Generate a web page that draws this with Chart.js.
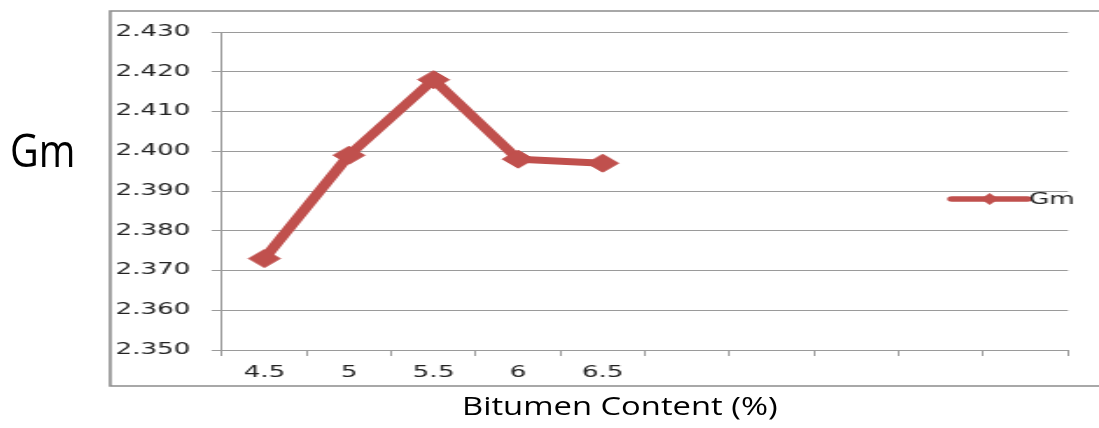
<!DOCTYPE html>
<html>
<head>
<meta charset="utf-8">
<title>Gm vs Bitumen Content</title>
<script src="https://cdn.jsdelivr.net/npm/chart.js@4.4.1/dist/chart.umd.min.js"></script>
<style>
    body { margin: 0; background: #fff; }
    #page { position: relative; width: 1099px; height: 428px; overflow: hidden; }
    /* chart is drawn narrow and then widened to the slide width */
    #chartWrap {
        position: absolute; left: 0; top: 0;
        width: 628px; height: 428px;
        transform: scaleX(1.75); transform-origin: 0 0;
    }
    .axisTitle {
        position: absolute;
        font-family: "Open Sans", "Noto Sans", sans-serif;
        color: #000;
        white-space: nowrap;
        line-height: 1;
        transform-origin: 0 0;
    }
    #yTitle { left: 10px; top: 127px; font-size: 45px; transform: scaleX(0.88); }
    #xTitle { left: 462px; top: 393px; font-size: 25px; transform: scaleX(1.31); }
</style>
</head>
<body>
<div id="page">
    <div id="chartWrap"><canvas id="myChart"></canvas></div>
    <div id="yTitle" class="axisTitle">Gm</div>
    <div id="xTitle" class="axisTitle">Bitumen Content (%)</div>
</div>

<script>
// Bitumen content categories (the last five are left empty)
const bitumenContent = ['4.5', '5', '5.5', '6', '6.5', '', '', '', '', ''];
// Gm values for each bitumen content
const gmValues = [2.373, 2.399, 2.418, 2.398, 2.397, null, null, null, null, null];
// y axis range and step
const yMin = 2.350;
const yMax = 2.430;
const yStep = 0.010;

const lineColor = '#C0504D';
const gridColor = '#9a9a9a';
const tickFont = { family: 'DejaVu Sans', size: 15 };

// Gray frame around the whole chart (top, left, bottom)
const framePlugin = {
    id: 'frame',
    beforeDraw(chart) {
        const ctx = chart.ctx;
        ctx.save();
        ctx.strokeStyle = '#8c8c8c';
        ctx.lineWidth = 1.6;
        ctx.beginPath();
        ctx.moveTo(chart.width, 11);
        ctx.lineTo(63, 11);
        ctx.lineTo(63, 386);
        ctx.lineTo(chart.width, 386);
        ctx.stroke();
        ctx.restore();
    }
};

// Legend drawn on top of the plot, right side
const legendPlugin = {
    id: 'sideLegend',
    afterDraw(chart) {
        const ctx = chart.ctx;
        const ds = chart.data.datasets[0];
        const x0 = 544, x1 = 587, y = 199;
        ctx.save();
        ctx.strokeStyle = ds.borderColor;
        ctx.lineWidth = 5.5;
        ctx.lineCap = 'round';
        ctx.beginPath();
        ctx.moveTo(x0, y);
        ctx.lineTo(x1, y);
        ctx.stroke();
        // small diamond marker in the middle
        const cx = (x0 + x1) / 2;
        ctx.fillStyle = ds.backgroundColor;
        ctx.beginPath();
        ctx.moveTo(cx - 5, y);
        ctx.lineTo(cx, y - 6);
        ctx.lineTo(cx + 5, y);
        ctx.lineTo(cx, y + 6);
        ctx.closePath();
        ctx.fill();
        ctx.fillStyle = '#222';
        ctx.font = tickFont.size + 'px ' + tickFont.family;
        ctx.textBaseline = 'middle';
        ctx.fillText(ds.label, 588, y + 1);
        ctx.restore();
    }
};

function createLineChart(labels, data) {
    const ctx = document.getElementById('myChart').getContext('2d');
    new Chart(ctx, {
        type: 'line',
        data: {
            labels: labels,
            datasets: [{
                label: 'Gm',
                data: data,
                borderColor: lineColor,
                backgroundColor: lineColor,
                borderWidth: 7,
                pointStyle: 'rectRot',
                pointRadius: 9,
                pointBorderWidth: 1,
                pointBorderColor: lineColor,
                pointBackgroundColor: lineColor,
                tension: 0,
                fill: false
            }]
        },
        options: {
            responsive: true,
            maintainAspectRatio: false,
            animation: false,
            layout: {
                padding: { left: 0, top: 32, right: 17.7, bottom: 0 }
            },
            plugins: {
                legend: { display: false },
                tooltip: { enabled: false }
            },
            scales: {
                x: {
                    type: 'category',
                    offset: true,
                    afterFit(scale) { scale.height = 78; },
                    grid: {
                        offset: true,
                        drawOnChartArea: false,
                        drawTicks: true,
                        tickLength: 6,
                        color: gridColor
                    },
                    border: { display: true, color: gridColor, width: 1 },
                    ticks: {
                        font: tickFont,
                        color: '#222',
                        padding: 8,
                        maxRotation: 0,
                        autoSkip: false
                    }
                },
                y: {
                    min: yMin,
                    max: yMax,
                    afterFit(scale) { scale.width = 126.9; },
                    grid: {
                        color: gridColor,
                        lineWidth: 1,
                        tickLength: 6
                    },
                    border: { display: true, color: gridColor, width: 1 },
                    ticks: {
                        stepSize: yStep,
                        font: tickFont,
                        color: '#222',
                        padding: 12,
                        callback: function(value) {
                            return value.toFixed(3);
                        }
                    }
                }
            }
        },
        plugins: [framePlugin, legendPlugin]
    });
}

createLineChart(bitumenContent, gmValues);
</script>
</body>
</html>
